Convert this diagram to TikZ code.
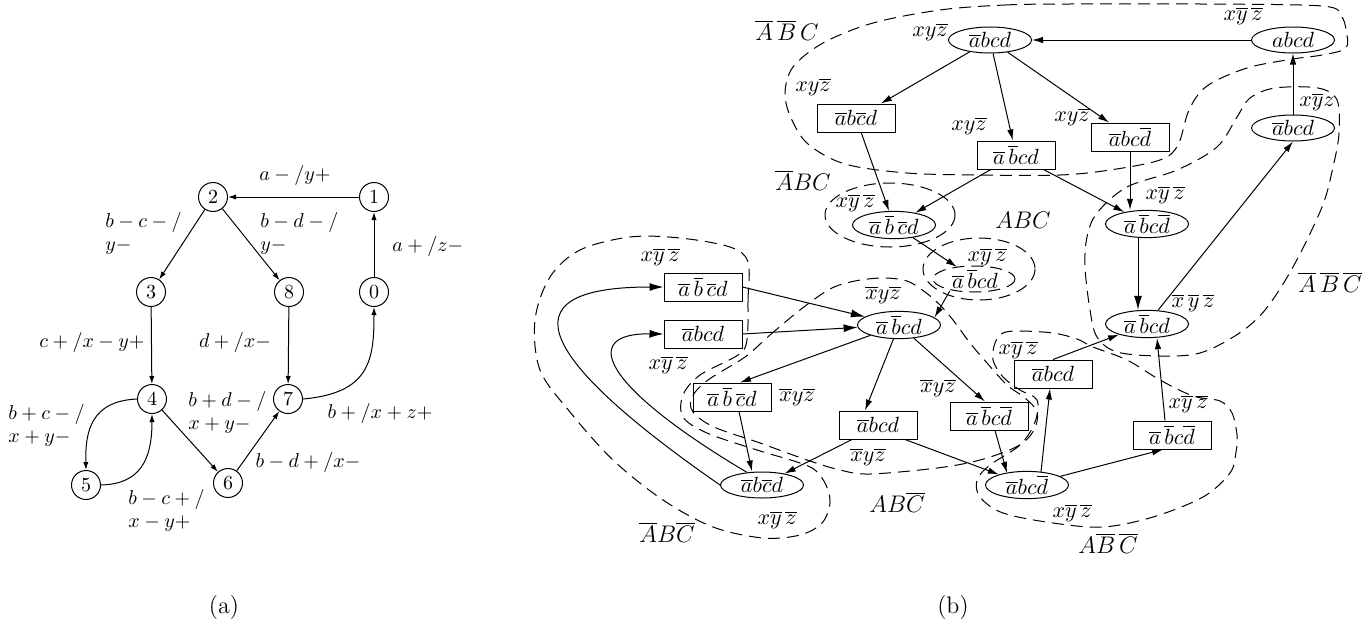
\RequirePackage{fix-cm}
\documentclass[tikz,border=0pt]{standalone}
\usetikzlibrary{shapes.geometric,arrows.meta,calc}
\begin{document}
\begin{tikzpicture}[x=0.5pt,y=-0.5pt,
  st/.style={circle,draw,line width=0.5pt,minimum size=14.5pt,inner sep=0pt,font=\fontsize{10}{12}\selectfont},
  la/.style={inner sep=0pt,align=left,font=\fontsize{10}{11.5}\selectfont},
  el/.style={ellipse,draw,line width=0.5pt,minimum width=41.5pt,minimum height=13pt,inner sep=0pt,font=\fontsize{11}{13}\selectfont},
  bx/.style={rectangle,draw,line width=0.5pt,minimum width=39pt,minimum height=14pt,inner sep=0pt,font=\fontsize{11}{13}\selectfont},
  pl/.style={inner sep=1pt,font=\fontsize{11}{13}\selectfont},
  lb/.style={inner sep=0pt,font=\fontsize{11}{13}\selectfont},
  rg/.style={inner sep=0pt,font=\fontsize{12}{14}\selectfont},
  captxt/.style={inner sep=0pt,font=\fontsize{12}{14}\selectfont},
  ara/.style={-{Latex[length=4pt,width=2.6pt]},line width=0.5pt},
  ar/.style={-{Latex[length=5.5pt,width=3.2pt]},line width=0.5pt},
  arb/.style={-{Latex[length=7pt,width=4pt]},line width=0.5pt},
  rgn/.style={dash pattern=on 6pt off 3.5pt,line width=0.5pt},
]
\useasboundingbox (0,0) rectangle (1369,637);

% ---------------- (a) ----------------
\node[st] (n2) at (213,197) {2};
\node[st] (n1) at (374,197) {1};
\node[st] (n3) at (151,292) {3};
\node[st] (n8) at (289,292) {8};
\node[st] (n0) at (374,292) {0};
\node[st] (n4) at (152,399) {4};
\node[st] (n7) at (288,399) {7};
\node[st] (n5) at (86,485) {5};
\node[st] (n6) at (228,483) {6};

\draw[ara] (n1) -- (n2);
\draw[ara] (n0) -- (n1);
\draw[ara] (n2) -- (n3);
\draw[ara] (n2) -- (n8);
\draw[ara] (n3) -- (n4);
\draw[ara] (n8) -- (n7);
\draw[ara] (n4) -- (n6);
\draw[ara] (n6) -- (n7);
\draw[ara] (n7.east) .. controls (370,393) and (374,360) .. (n0.south);
\draw[ara] (n4.west) .. controls (92,401) and (85,430) .. (n5.north);
\draw[ara] (n5.east) .. controls (140,484) and (152,460) .. (n4.south);

\node[la] (la1) at (295,175) {$a-/y+$};
\node[la,anchor=west] (la2) at (105,233.5) {$b-c-/$\\$y-$};
\node[la,anchor=west] (la3) at (260,233.5) {$b-d-/$\\$y-$};
\node[la,anchor=west] (la4) at (392,246) {$a+/z-$};
\node[la] (la5) at (92,342) {$c+/x-y+$};
\node[la] (la6) at (235,342) {$d+/x-$};
\node[la,anchor=west] (la7) at (8,425) {$b+c-/$\\$x+y-$};
\node[la,anchor=west] (la8) at (188,412.5) {$b+d-/$\\$x+y-$};
\node[la] (la9) at (380,413) {$b+/x+z+$};
\node[la] (la10) at (308,462) {$b-d+/x-$};
\node[la,anchor=west] (la11) at (128,510) {$b-c+/$\\$x-y+$};

\node[captxt] (capa) at (224,608) {(a)};
\node[captxt] (capb) at (953,608) {(b)};

% ---------------- (b) regions ----------------
% R1
\draw[rgn] plot[smooth cycle,tension=0.55] coordinates {(940,10) (1005,5) (1070,4) (1200,4) (1322,6) (1341,16) (1346,30) (1346,48) (1322,55) (1293,59) (1247,68) (1207,86) (1189,110) (1178,145) (1160,160) (1110,170) (1060,175) (980,175) (907,173) (845,164) (808,144) (791,118) (785,93) (793,67) (823,43) (873,23)};
% R2
\draw[rgn] (890,215) ellipse [x radius=65, y radius=32];
% R3
\draw[rgn] (974,279) ellipse [x radius=41, y radius=13];
\draw[rgn] (979,269) ellipse [x radius=56, y radius=31];
% R4
\draw[rgn] plot[smooth cycle,tension=0.55] coordinates {(1097,213) (1127,187) (1177,170) (1217,147) (1237,117) (1250,98) (1275,88) (1318,88) (1337,100) (1339,133) (1333,167) (1322,207) (1293,267) (1265,310) (1238,334) (1200,353) (1160,356) (1117,352) (1097,337) (1090,310) (1085,267) (1087,237)};
% R5
\draw[rgn] plot[smooth cycle,tension=0.55] coordinates {(748,262) (748,300) (747,340) (738,355) (700,375) (683,395) (683,417) (707,433) (757,450) (797,462) (815,470) (826,485) (830,503) (822,523) (800,535) (763,538) (713,527) (663,500) (613,460) (570,412) (540,370) (535,320) (550,277) (580,250) (630,237) (680,238) (730,247)};
% R6
\draw[rgn] plot[smooth cycle,tension=0.55] coordinates {(745,357) (770,335) (800,310) (830,289) (855,281) (883,278) (907,281) (925,292) (940,305) (953,320) (970,343) (987,363) (1007,385) (1025,398) (1037,412) (1034,430) (1018,446) (980,460) (937,468) (870,474) (840,470) (807,460) (760,443) (714,427) (693,412) (692,397) (708,380)};
% R7
\draw[rgn] plot[smooth cycle,tension=0.55] coordinates {(1003,333) (1020,331) (1053,333) (1077,339) (1093,347) (1127,360) (1160,380) (1193,396) (1220,401) (1232,413) (1237,435) (1236,452) (1230,473) (1203,497) (1153,517) (1103,527) (1053,523) (1003,513) (980,497) (977,480) (990,465) (1020,445) (1035,422) (1037,400) (1020,390) (1003,377) (993,360) (995,343)};

% ---------------- (b) nodes ----------------
\node[el] (Etop) at (990,40) {$\overline{a}bcd$};
\node[el] (Eabcd) at (1293,40) {$abcd$};
\node[bx] (B1) at (856,118) {$\overline{a}b\overline{c}d$};
\node[bx] (B2) at (1016,155) {$\overline{a}\,\overline{b}cd$};
\node[bx] (B3) at (1130,137) {$\overline{a}bc\overline{d}$};
\node[el] (Eab2) at (1293,128) {$\overline{a}bcd$};
\node[el] (E3) at (894,225) {$\overline{a}\,\overline{b}\,\overline{c}d$};
\node[pl] (N12) at (975,279) {$\overline{a}\,\overline{b}cd$};
\node[el] (Emid) at (899,325) {$\overline{a}\,\overline{b}cd$};
\node[el] (Er1) at (1147,224) {$\overline{a}\,\overline{b}c\overline{d}$};
\node[el] (Er2) at (1147,324) {$\overline{a}\,\overline{b}cd$};
\node[bx] (B4) at (703,287) {$\overline{a}\,\overline{b}\,\overline{c}d$};
\node[bx] (B5) at (703,334) {$\overline{a}bcd$};
\node[bx] (B6) at (732,397) {$\overline{a}\,\overline{b}\,\overline{c}d$};
\node[bx] (B7) at (878,425) {$\overline{a}bcd$};
\node[bx] (B8) at (989,416) {$\overline{a}\,\overline{b}c\overline{d}$};
\node[bx] (B9) at (1053,374) {$\overline{a}bcd$};
\node[bx] (B10) at (1172,435) {$\overline{a}\,\overline{b}c\overline{d}$};
\node[el] (Eb) at (1027,485) {$\overline{a}bc\overline{d}$};
\node[el] (El) at (762,485) {$\overline{a}b\overline{c}d$};

% labels
\node[lb] (l1) at (1243,16) {$x\overline{y}\,\overline{z}$};
\node[lb] (l2) at (930,32) {$xy\overline{z}$};
\node[lb] (l3) at (813,87) {$xy\overline{z}$};
\node[lb] (l4) at (969,126) {$xy\overline{z}$};
\node[lb] (l5) at (1072,117) {$xy\overline{z}$};
\node[lb] (l6) at (1317,102) {$x\overline{y}z$};
\node[lb] (l7) at (855,203) {$x\overline{y}\,\overline{z}$};
\node[lb] (l8) at (987,257) {$x\overline{y}\,\overline{z}$};
\node[lb] (l9) at (883,295) {$\overline{x}y\overline{z}$};
\node[lb] (l10) at (660,257) {$x\overline{y}\,\overline{z}$};
\node[lb] (l11) at (668,365) {$x\overline{y}\,\overline{z}$};
\node[lb] (l12) at (797,397) {$\overline{x}y\overline{z}$};
\node[lb] (l13) at (868,457) {$\overline{x}y\overline{z}$};
\node[lb] (l14) at (938,388) {$\overline{x}y\overline{z}$};
\node[lb] (l15) at (1018,350) {$x\overline{y}\,\overline{z}$};
\node[lb] (l16) at (1165,195) {$x\overline{y}\,\overline{z}$};
\node[lb] (l17) at (1193,303) {$\overline{x}\,\overline{y}\,\overline{z}$};
\node[lb] (l18) at (1188,404) {$x\overline{y}\,\overline{z}$};
\node[lb] (l19) at (1072,513) {$x\overline{y}\,\overline{z}$};
\node[lb] (l20) at (777,520) {$x\overline{y}\,\overline{z}$};

\node[rg] (r1) at (787,30) {$\overline{A}\,\overline{B}\,C$};
\node[rg] (r2) at (803,180) {$\overline{A}BC$};
\node[rg] (r3) at (1023,220) {$ABC$};
\node[rg] (r4) at (1330,282) {$\overline{A}\,\overline{B}\,\overline{C}$};
\node[rg] (r5) at (897,502) {$AB\overline{C}$};
\node[rg] (r6) at (1108,543) {$A\overline{B}\,\overline{C}$};
\node[rg] (r7) at (667,532) {$\overline{A}B\overline{C}$};

% ---------------- (b) edges ----------------
\draw[ar] (Eabcd) -- (Etop);
\draw[ar] (Etop) -- (B1);
\draw[ar] (Etop) -- (B2);
\draw[ar] (Etop) -- (B3);
\draw[ar] (B1) -- (E3);
\draw[ar] (B2) -- (E3);
\draw[ar] (B2) -- (Er1);
\draw[ar] (B3.south) -- (B3.south |- Er1.north);
\draw[arb] ($(Er1.south)+(-9,0)$) -- ($(Er2.north)+(-9,0)$);
\draw[ar] (Er2) -- (Eab2.south);
\draw[ar] (Eab2) -- (Eabcd);
\draw[ar] (E3) -- (N12);
\draw[ar] (N12.south west) -- (Emid.12);
\draw[arb] (B4.east) -- (Emid);
\draw[arb] (B5.east) -- (Emid);
\draw[ar] (Emid) -- ($(B6.north)+(8,0)$);
\draw[ar] (Emid) -- ($(B7.north)+(-13,0)$);
\draw[ar] (Emid) -- ($(B8.north)+(-4,0)$);
\draw[ar] ($(B6.south)+(7,0)$) -- ($(El.north)+(-10,0)$);
\draw[ar] ($(B7.south)+(-26,0)$) -- (El);
\draw[ar] ($(B7.south)+(27,0)$) -- (Eb);
\draw[ar] ($(B8.south)+(6,0)$) -- ($(Eb.north)+(-20,2)$);
\draw[ar] ($(Eb.north)+(14,1)$) -- ($(B9.south)+(-3,0)$);
\draw[ar] (Eb) -- ($(B10.south)+(-9,0)$);
\draw[ar] (B9.north) -- (Er2);
\draw[ar] ($(B10.north)+(-7,0)$) -- ($(Er2.south)+(10,0)$);
\draw[arb] (El.west) .. controls (540,360) and (500,287) .. (B4.west);
\draw[arb] (El.140) .. controls (600,385) and (580,333) .. (B5.west);

\end{tikzpicture}
\end{document}
